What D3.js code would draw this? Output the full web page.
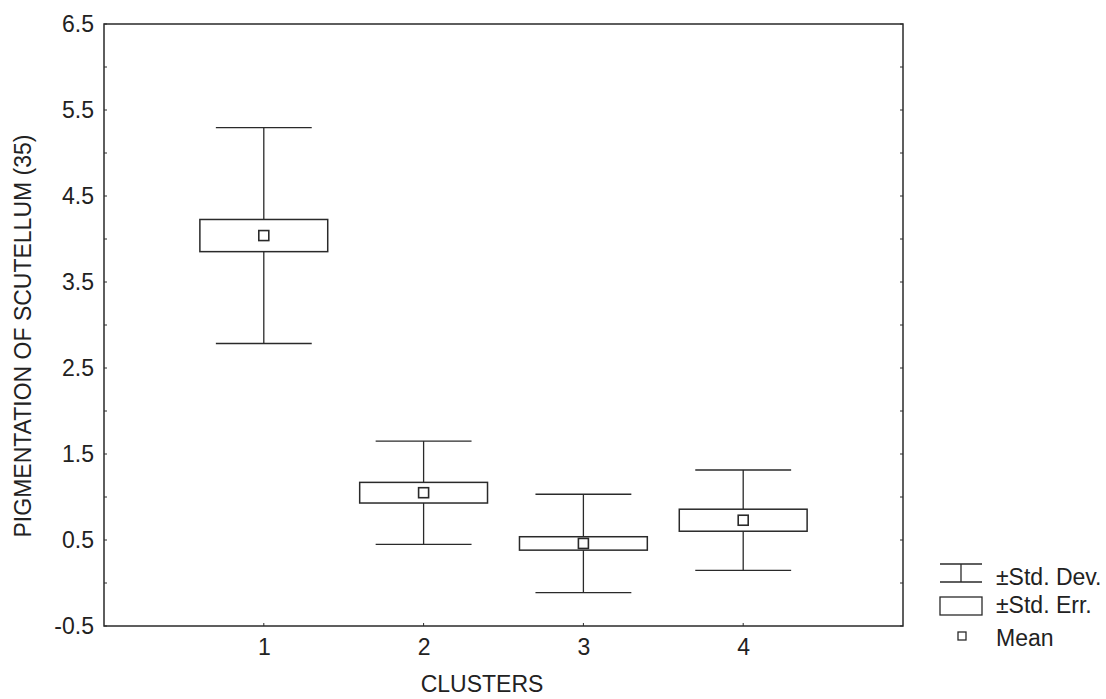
<!DOCTYPE html>
<html>
<head>
<meta charset="utf-8">
<script src="https://cdn.jsdelivr.net/npm/d3@7"></script>
<style>
  html, body { margin: 0; padding: 0; background: #fff; }
  svg { display: block; }
  text { font-family: "Liberation Sans", Arial, sans-serif; fill: #222; }
</style>
</head>
<body>
<svg id="chart" width="1106" height="699"></svg>
<script>
// Cluster summary statistics
const clusters = [1, 2, 3, 4];
const means    = [4.04, 1.05, 0.46, 0.73];
const stdDevs  = [1.255, 0.60, 0.572, 0.584];
const stdErrs  = [0.187, 0.12, 0.078, 0.128];

const yTicks = [-0.5, 0.5, 1.5, 2.5, 3.5, 4.5, 5.5, 6.5];
const yMinorTicks = d3.range(-0.5, 6.51, 0.5);
const legendLabels = ["\u00B1Std. Dev.", "\u00B1Std. Err.", "Mean"];

const svg = d3.select("#chart");
const frame = { left: 104, right: 903, top: 24, bottom: 626 };
const ink = "#2a2a2a";
const fontSize = "23px";

const x = d3.scaleLinear().domain([0, 5]).range([frame.left, frame.right]);
const y = d3.scaleLinear().domain([-0.5, 6.5]).range([frame.bottom, frame.top]);

// Plot frame
svg.append("rect")
  .attr("x", frame.left).attr("y", frame.top)
  .attr("width", frame.right - frame.left).attr("height", frame.bottom - frame.top)
  .attr("fill", "none").attr("stroke", ink).attr("stroke-width", 1.5);

// Left axis: labels plus small inward ticks
const fmt = d => d.toFixed(1);   // plain hyphen for negatives
const yAxis = d3.axisLeft(y).tickValues(yTicks).tickFormat(fmt)
  .tickSize(0).tickPadding(10);
const gy = svg.append("g").attr("transform", `translate(${frame.left},0)`).call(yAxis);
gy.select(".domain").remove();
gy.selectAll("text").style("font-size", fontSize).attr("fill", ink);

svg.append("g").selectAll("line").data(yMinorTicks).join("line")
  .attr("x1", frame.left).attr("x2", frame.left + 3)
  .attr("y1", d => y(d)).attr("y2", d => y(d))
  .attr("stroke", ink).attr("stroke-width", 1);
svg.append("g").selectAll("line").data(yMinorTicks).join("line")
  .attr("x1", frame.right).attr("x2", frame.right - 3)
  .attr("y1", d => y(d)).attr("y2", d => y(d))
  .attr("stroke", ink).attr("stroke-width", 1);

// Bottom axis
const xAxis = d3.axisBottom(x).tickValues(clusters).tickFormat(d3.format("d"))
  .tickSize(0).tickPadding(13);
const gx = svg.append("g").attr("transform", `translate(0,${frame.bottom})`).call(xAxis);
gx.select(".domain").remove();
gx.selectAll("text").style("font-size", fontSize).attr("fill", ink);

svg.append("g").selectAll("line").data(clusters).join("line")
  .attr("x1", d => x(d)).attr("x2", d => x(d))
  .attr("y1", frame.bottom).attr("y2", frame.bottom - 3)
  .attr("stroke", ink).attr("stroke-width", 1);

// Axis titles
svg.append("text")
  .attr("transform", `translate(31,336) rotate(-90)`)
  .attr("text-anchor", "middle")
  .style("font-size", fontSize)
  .text("PIGMENTATION OF SCUTELLUM (35)");

svg.append("text")
  .attr("x", 482).attr("y", 692)
  .attr("text-anchor", "middle")
  .style("font-size", fontSize)
  .text("CLUSTERS");

// Whisker plots
const boxHalf = 0.4, capHalf = 0.3, markSize = 10;
const groups = svg.append("g").selectAll("g").data(clusters).join("g");

groups.append("line")
  .attr("x1", d => x(d)).attr("x2", d => x(d))
  .attr("y1", (d, i) => y(means[i] + stdDevs[i]))
  .attr("y2", (d, i) => y(means[i] - stdDevs[i]))
  .attr("stroke", ink).attr("stroke-width", 1.3);

[1, -1].forEach(s => {
  groups.append("line")
    .attr("x1", d => x(d - capHalf)).attr("x2", d => x(d + capHalf))
    .attr("y1", (d, i) => y(means[i] + s * stdDevs[i]))
    .attr("y2", (d, i) => y(means[i] + s * stdDevs[i]))
    .attr("stroke", ink).attr("stroke-width", 1.3);
});

groups.append("rect")
  .attr("x", d => x(d - boxHalf))
  .attr("width", d => x(d + boxHalf) - x(d - boxHalf))
  .attr("y", (d, i) => y(means[i] + stdErrs[i]))
  .attr("height", (d, i) => y(means[i] - stdErrs[i]) - y(means[i] + stdErrs[i]))
  .attr("fill", "#fff").attr("stroke", ink).attr("stroke-width", 1.5);

groups.append("rect")
  .attr("x", d => x(d) - markSize / 2)
  .attr("y", (d, i) => y(means[i]) - markSize / 2)
  .attr("width", markSize).attr("height", markSize)
  .attr("fill", "#fff").attr("stroke", ink).attr("stroke-width", 1.6);

// Legend
const lg = svg.append("g").attr("transform", "translate(940,0)");
lg.append("line").attr("x1", 0).attr("x2", 42).attr("y1", 564).attr("y2", 564).attr("stroke", ink).attr("stroke-width", 1.3);
lg.append("line").attr("x1", 0).attr("x2", 42).attr("y1", 582).attr("y2", 582).attr("stroke", ink).attr("stroke-width", 1.3);
lg.append("line").attr("x1", 21).attr("x2", 21).attr("y1", 564).attr("y2", 582).attr("stroke", ink).attr("stroke-width", 1.3);
lg.append("rect").attr("x", 0).attr("y", 597).attr("width", 42).attr("height", 18)
  .attr("fill", "#fff").attr("stroke", ink).attr("stroke-width", 1.3);
lg.append("rect").attr("x", 18).attr("y", 632).attr("width", 8).attr("height", 8)
  .attr("fill", "#fff").attr("stroke", ink).attr("stroke-width", 1.3);

const legendBaselines = [585, 613, 646];
lg.selectAll("text.leg").data(legendLabels).join("text")
  .attr("class", "leg")
  .attr("x", 56)
  .attr("y", (d, i) => legendBaselines[i])
  .style("font-size", fontSize)
  .text(d => d);
</script>
</body>
</html>
